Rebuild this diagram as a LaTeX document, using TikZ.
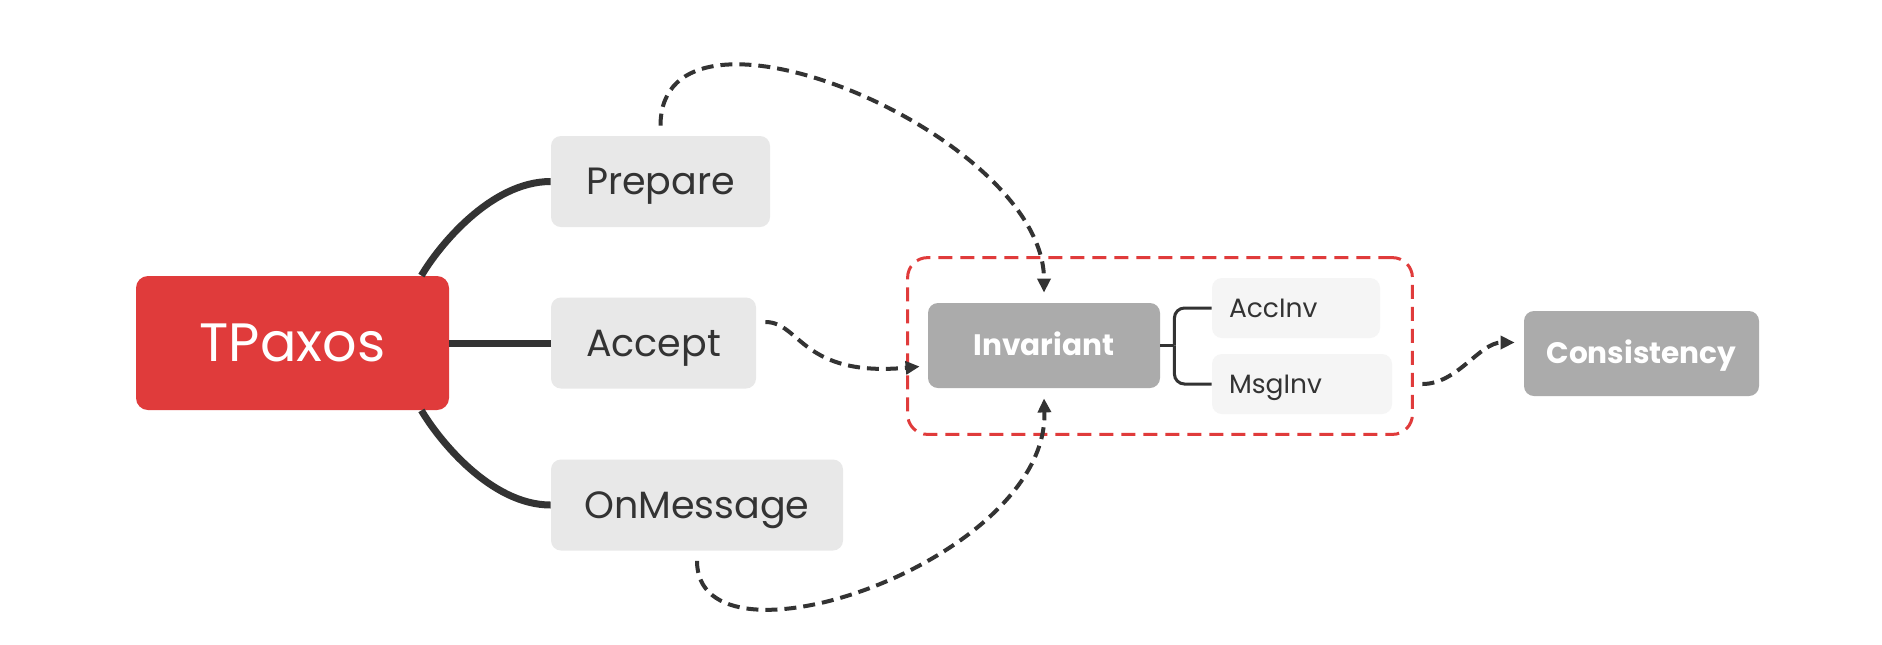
\documentclass[tikz,border=0pt]{standalone}
\usepackage{fontspec}
\setmainfont{Poppins}
\usetikzlibrary{arrows.meta,positioning,fit}
\definecolor{TPRed}{HTML}{E03B3B}
\definecolor{TPGray}{HTML}{ABABAB}
\definecolor{TPLight}{HTML}{E8E8E8}
\definecolor{TPPale}{HTML}{F5F5F5}
\definecolor{TPInk}{HTML}{333333}

\begin{document}
\begin{tikzpicture}[x=0.5pt, y=-0.5pt, >={Triangle[length=7pt,width=6.5pt]},
   root/.style={fill=TPRed, text=white, rounded corners=6pt, minimum width=156.5pt,
                minimum height=67pt, text height=18.9pt, text depth=0pt,
                font=\fontsize{27}{30}\selectfont},
   topic/.style={fill=TPLight, text=TPInk, rounded corners=5pt, minimum height=45.5pt,
                 text height=13.3pt, text depth=0pt, font=\fontsize{19}{22}\selectfont},
   key/.style={fill=TPGray, text=white, rounded corners=5pt, minimum height=42.5pt,
               text height=10.4pt, text depth=0pt, font=\bfseries\fontsize{14.8}{18}\selectfont},
   sub/.style={fill=TPPale, text=TPInk, rounded corners=5pt, minimum height=30pt,
               inner xsep=8.5pt, align=left, text height=9.3pt, text depth=0pt,
               font=\fontsize{13.25}{16}\selectfont},
   branch/.style={draw=TPInk, line width=3.5pt},
   link/.style={draw=TPInk, line width=1.5pt},
   flow/.style={->, draw=TPInk, line width=2pt, dash pattern=on 6pt off 3.5pt},
   grp/.style={draw=TPRed, line width=1.5pt, dash pattern=on 7pt off 4pt,
               rounded corners=10pt, inner sep=10pt}]
  \fill[white] (0,0) rectangle (1882,644);
  \useasboundingbox (0,0) rectangle (1882,644);

  % mind map
  \node[root] (tp) at (292.5,343) {TPaxos};
  \node[topic, minimum width=109.5pt] (pre) at (660.5,181.5) {Prepare};
  \node[topic, minimum width=102.5pt] (acc) at (653.5,343) {Accept};
  \node[topic, minimum width=146pt]   (onm) at (697,505) {OnMessage};
  \draw[branch] ([xshift=-14pt]tp.north east) .. controls +(17,-29) and +(-60,0) .. (pre.west);
  \draw[branch] (tp) -- (acc);
  \draw[branch] ([xshift=-14pt]tp.south east) .. controls +(17,29) and +(-60,0) .. (onm.west);

  % invariant group
  \node[key, minimum width=116pt] (inv) at (1044,345.5) {Invariant};
  \node[sub, text width=67pt] (ainv) at (1296,308) {AccInv};
  \node[sub, text width=73pt] (minv) at (1302,384) {MsgInv};
  \node[grp, fit=(inv)(ainv)(minv)] (box) {};
  \draw[link] (inv.east) -- ++(14,0) coordinate (fork);
  \draw[link, rounded corners=5pt] (fork) |- (ainv.west);
  \draw[link, rounded corners=5pt] (fork) |- (minv.west);

  \node[key, minimum width=117.5pt] (con) at (1641.5,353.5) {Consistency};

  % flows
  \draw[flow] ([yshift=5pt]pre.north) .. controls +(0,-152) and +(0,-158) .. ([yshift=5pt]inv.north);
  \draw[flow] ([shift={(4.5pt,10.5pt)}]acc.east) .. controls +(35,0) and +(-118,11) .. ([shift={(-4pt,-10.5pt)}]inv.west);
  \draw[flow] ([yshift=-5pt]onm.south) .. controls +(0,120) and +(5,162) .. ([yshift=-5pt]inv.south);
  \draw[flow] ([xshift=15pt]minv.east) .. controls +(35,0) and +(-35,0) .. ([shift={(-4.5pt,5.5pt)}]con.west);
\end{tikzpicture}
\end{document}
